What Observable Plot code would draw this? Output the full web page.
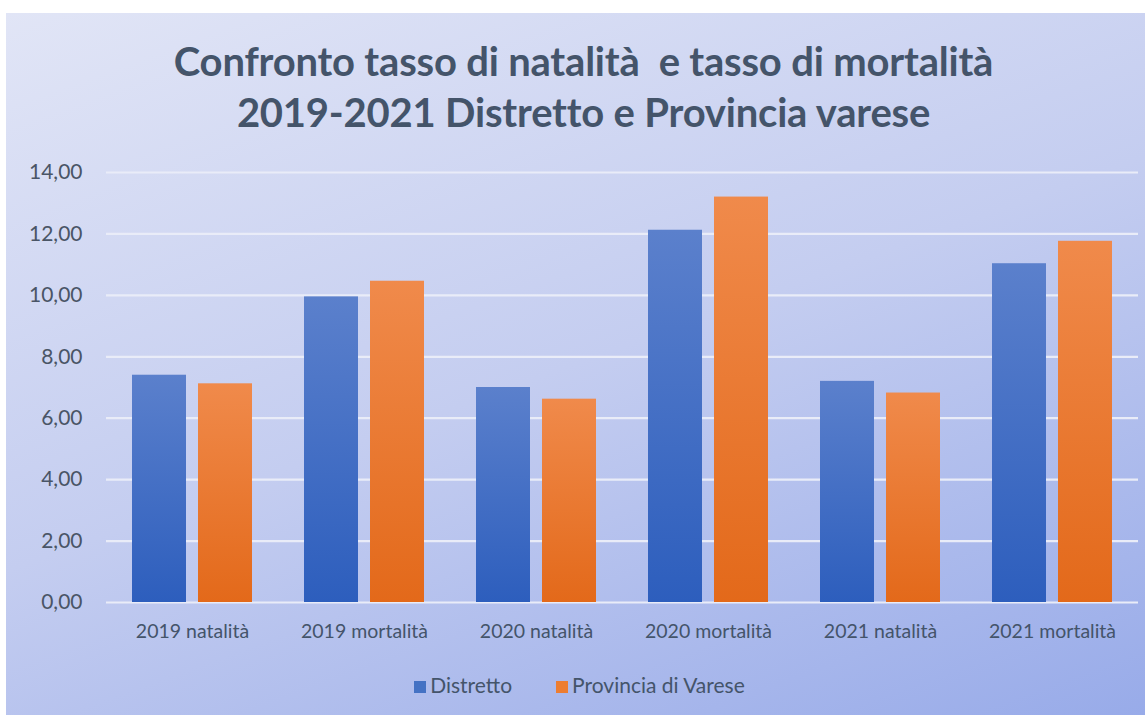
<!DOCTYPE html>
<html>
<head>
<meta charset="utf-8">
<script src="https://cdn.jsdelivr.net/npm/d3@7"></script>
<script src="https://cdn.jsdelivr.net/npm/@observablehq/plot@0.6"></script>
<style>
  html, body { margin: 0; padding: 0; background: #fff; }
  body { width: 1145px; height: 715px; overflow: hidden; position: relative; font-family: Lato, "Open Sans", sans-serif; }
  #card {
    position: absolute; left: 6px; top: 13px; width: 1139px; height: 702px;
    background: linear-gradient(160deg, #e1e5f6 0%, #c4cdf0 50%, #98abe9 100%);
  }
  #title {
    position: absolute; left: 8px; top: 23px; width: 1139px; text-align: center;
    font-family: Lato, sans-serif; font-weight: 700; font-size: 40px; line-height: 51px;
    color: #44546a; letter-spacing: -0.2px;
  }
  #plot { position: absolute; left: 0; top: 124px; }
  #legend {
    position: absolute; top: 659px; left: 4px; width: 1139px; display: flex; justify-content: center; gap: 44px;
    font-family: Lato, sans-serif; font-size: 21px; color: #44546a;
  }
  #legend span.sw { display: inline-block; width: 12px; height: 12px; margin-right: 4px; vertical-align: 0px; }
</style>
</head>
<body>
<div id="card">
  <div id="title">Confronto tasso di natalità&nbsp; e tasso di mortalità<br>2019-2021 Distretto e Provincia varese</div>
  <div id="plot"></div>
  <div id="legend">
    <div><span class="sw" style="background:#4472c4"></span>Distretto</div>
    <div><span class="sw" style="background:#ed7d31"></span>Provincia di Varese</div>
  </div>
</div>
<script>
const categories = ["2019 natalità", "2019 mortalità", "2020 natalità", "2020 mortalità", "2021 natalità", "2021 mortalità"];
const series = ["Distretto", "Provincia di Varese"];
const distretto = [7.40, 9.95, 7.00, 12.12, 7.20, 11.03];
const provincia = [7.12, 10.46, 6.62, 13.20, 6.82, 11.76];
const yTicks = [0, 2, 4, 6, 8, 10, 12, 14];

const data = [];
categories.forEach((c, i) => {
  data.push({category: c, series: series[0], value: distretto[i]});
  data.push({category: c, series: series[1], value: provincia[i]});
});

const fmt = v => v.toFixed(2).replace(".", ",");

const chart = Plot.plot({
  width: 1139,
  height: 530,
  marginLeft: 99,
  marginRight: 7,
  marginTop: 35,
  marginBottom: 65,
  style: {background: "transparent", fontFamily: "Lato, sans-serif", color: "#44546a"},
  fx: {domain: categories, padding: 0, label: null, axis: null},
  x: {domain: series, paddingInner: 0.185, paddingOuter: 0.39, axis: null},
  y: {domain: [0, 14], ticks: yTicks, label: null, axis: null},
  marks: [
    Plot.ruleY(yTicks, {stroke: "#e9ecf8", strokeWidth: 2.2, strokeOpacity: 1}),
    Plot.barY(data.filter(d => d.series === series[0]), {fx: "category", x: "series", y: "value", fill: "url(#gradBlue)"}),
    Plot.barY(data.filter(d => d.series === series[1]), {fx: "category", x: "series", y: "value", fill: "url(#gradOrange)"}),
    Plot.axisY(yTicks, {tickSize: 0, tickPadding: 24, tickFormat: fmt, fontSize: 21, fill: "#4a5566", facetAnchor: "left"}),
    Plot.axisFx({anchor: "bottom", tickSize: 0, tickPadding: 22, fontSize: 19.5, fill: "#44546a", label: null})
  ]
});

const svg = d3.select(chart);
const defs = svg.insert("defs", ":first-child");
const gb = defs.append("linearGradient").attr("id", "gradBlue").attr("x1", 0).attr("y1", 0).attr("x2", 0).attr("y2", 1);
gb.append("stop").attr("offset", "0%").attr("stop-color", "#5b80cc");
gb.append("stop").attr("offset", "100%").attr("stop-color", "#2d5ebd");
const go = defs.append("linearGradient").attr("id", "gradOrange").attr("x1", 0).attr("y1", 0).attr("x2", 0).attr("y2", 1);
go.append("stop").attr("offset", "0%").attr("stop-color", "#f08a4b");
go.append("stop").attr("offset", "100%").attr("stop-color", "#e3691a");

document.getElementById("plot").appendChild(chart);
</script>
</body>
</html>
